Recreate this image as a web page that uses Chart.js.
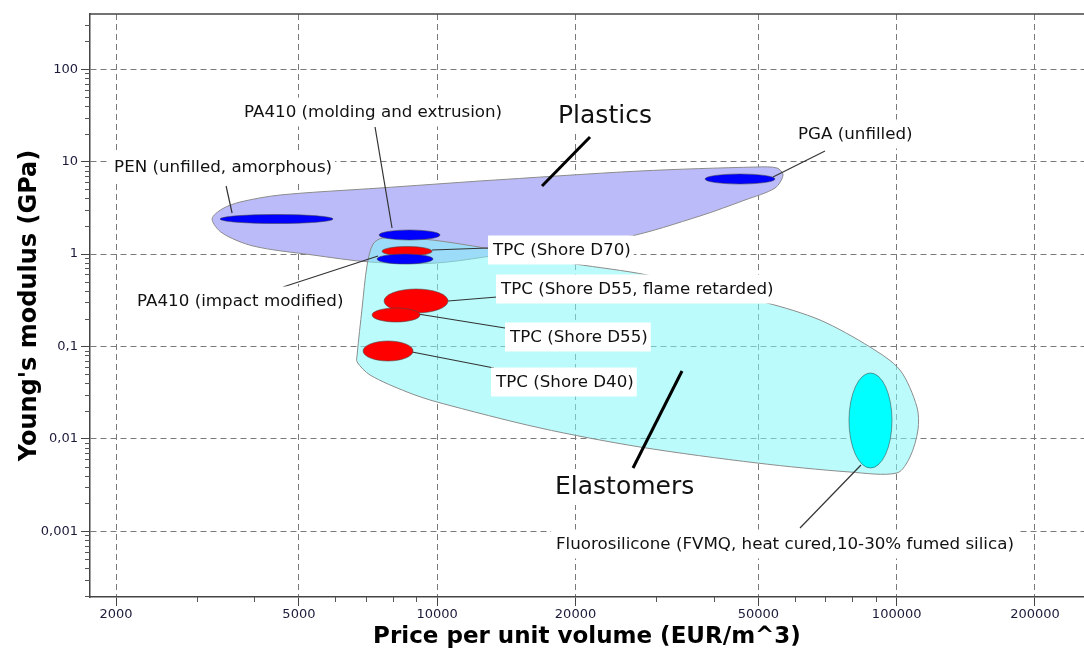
<!DOCTYPE html>
<html><head><meta charset="utf-8">
<script src="https://cdn.jsdelivr.net/npm/chart.js@4.4.1/dist/chart.umd.min.js"></script>
<style>html,body{margin:0;padding:0;background:#fff;overflow:hidden}canvas{display:block}</style>
</head><body>
<canvas id="c" width="1084" height="653"></canvas>
<script>
// ---------- axis ticks ----------
const xMajorTicks = [2000, 5000, 10000, 20000, 50000, 100000, 200000];
const xTickLabels = ['2000', '5000', '10000', '20000', '50000', '100000', '200000'];
const xMinorTicks = [3000, 4000, 6000, 7000, 8000, 9000, 30000, 40000, 60000, 70000, 80000, 90000];
const yMajorTicks = [0.001, 0.01, 0.1, 1, 10, 100];
const yTickLabels = ['0,001', '0,01', '0,1', '1', '10', '100'];
const yMinorTicks = [0.0002, 0.0003, 0.0004, 0.0005, 0.0006, 0.0007, 0.0008, 0.0009,
  0.002, 0.003, 0.004, 0.005, 0.006, 0.007, 0.008, 0.009,
  0.02, 0.03, 0.04, 0.05, 0.06, 0.07, 0.08, 0.09,
  0.2, 0.3, 0.4, 0.5, 0.6, 0.7, 0.8, 0.9,
  2, 3, 4, 5, 6, 7, 8, 9,
  20, 30, 40, 50, 60, 70, 80, 90,
  200, 300];

// ---------- materials (price range EUR/m^3, modulus range GPa) ----------
const materials = ['PEN (unfilled, amorphous)', 'PA410 (molding and extrusion)', 'TPC (Shore D70)',
  'PA410 (impact modified)', 'TPC (Shore D55, flame retarded)', 'TPC (Shore D55)', 'TPC (Shore D40)',
  'PGA (unfilled)', 'Fluorosilicone (FVMQ, heat cured,10-30% fumed silica)'];
const priceLow = [3368, 7471, 7584, 7397, 7661, 7214, 6896, 38270, 78748];
const priceHigh = [5933, 10143, 9744, 9793, 10557, 9175, 8859, 54350, 97683];
const modulusLow = [2.138, 1.4175, 0.9514, 0.7792, 0.22986, 0.18368, 0.069502, 5.7224, 0.0048303];
const modulusHigh = [2.676, 1.8186, 1.2056, 1.0, 0.41803, 0.2603, 0.1144, 7.3418, 0.051537];

// ---------- family envelopes ----------
const plasticsPrice = [12395, 27630, 49670, 54900, 56580, 54360, 46760, 37330, 25890, 15922, 9990, 7141, 5366, 3975, 3402, 3236, 3402, 3723, 4549, 7507, 12395];
const plasticsModulus = [6.17, 7.91, 8.74, 8.52, 7.16, 5.18, 3.84, 2.58, 1.53, 1.105, 0.799, 0.819, 0.975, 1.22, 1.69, 2.39, 3.07, 3.65, 4.35, 5.18, 6.17];
const elastomersPrice = [19950, 28620, 52220, 68100, 87480, 101670, 110700, 111270, 106900, 100160, 79140, 49670, 27630, 16737, 9990, 8597, 7141, 6693, 6693, 6863, 7037, 7250, 7622, 10143, 19950];
const elastomersModulus = [0.779, 0.593, 0.295, 0.193, 0.0985, 0.0555, 0.0221, 0.01245, 0.00635, 0.00427, 0.00437, 0.00547, 0.00815, 0.0131, 0.025, 0.0321, 0.049, 0.0678, 0.0807, 0.2603, 0.760, 1.283, 1.49, 1.383, 0.779];

// ---------- annotation placement (data space) ----------
const labelAnchors = [[1980, 8.526], [3798, 33.57], [13228, 1.0776], [2222, 0.30236], [13769, 0.40775],
  [14404, 0.12329], [13428, 0.04017], [60989, 19.40], [18138, 0.00070901]];
const leaderLines = [[3577, 2.778, 3471, 5.444], [7974, 1.912, 7323, 23.68], [9744, 1.1049, 12901, 1.1611],
  [7434, 0.9514, 4618, 0.4394], [10557, 0.30999, 13496, 0.34247], [9084, 0.22421, 14048, 0.15817],
  [8815, 0.086974, 13294, 0.058376], [53808, 6.8129, 69825, 13.023], [83629, 0.0052054, 61603, 0.001083]];
const familyNames = ['Plastics', 'Elastomers'];
const familyAnchors = [[18321, 30.39], [18048, 0.0029345]];
const familyPointers = [[21507, 18.46, 16909, 5.444], [34104, 0.054171, 26679, 0.0048303]];

// ---------- styles ----------
const ellipseColors = ['#0000ff', '#0000ff', '#ff0000', '#0000ff', '#ff0000', '#ff0000', '#ff0000', '#0000ff', '#00ffff'];
const FONT = 'DejaVu Sans';

Chart.defaults.font.family = FONT;

const isMajor = (list, v) => list.some(t => Math.abs(t - v) / t < 1e-6);

const annot = {
  id: 'annot',
  afterDatasetsDraw(chart) {
    const {ctx, chartArea: a} = chart;
    const xs = chart.scales.x, ys = chart.scales.y;
    const px = v => xs.getPixelForValue(v), py = v => ys.getPixelForValue(v);
    ctx.save();
    ctx.beginPath(); ctx.rect(a.left, a.top, a.right - a.left, a.bottom - a.top); ctx.clip();
    // leader lines
    ctx.strokeStyle = '#333'; ctx.lineWidth = 1.2;
    leaderLines.forEach(l => {
      ctx.beginPath(); ctx.moveTo(px(l[0]), py(l[1])); ctx.lineTo(px(l[2]), py(l[3])); ctx.stroke();
    });
    // ellipses
    materials.forEach((m, i) => {
      const x1 = px(priceLow[i]), x2 = px(priceHigh[i]);
      const y1 = py(modulusHigh[i]), y2 = py(modulusLow[i]);
      ctx.beginPath();
      ctx.ellipse((x1 + x2) / 2, (y1 + y2) / 2, (x2 - x1) / 2, (y2 - y1) / 2, 0, 0, Math.PI * 2);
      ctx.fillStyle = ellipseColors[i]; ctx.fill();
      ctx.strokeStyle = 'rgba(70,70,70,0.55)'; ctx.lineWidth = 1; ctx.stroke();
    });
    // family pointers
    ctx.strokeStyle = '#000'; ctx.lineWidth = 3;
    familyPointers.forEach(l => {
      ctx.beginPath(); ctx.moveTo(px(l[0]), py(l[1])); ctx.lineTo(px(l[2]), py(l[3])); ctx.stroke();
    });
    // labels
    const drawLabel = (text, xv, yv, size, boxH) => {
      ctx.font = size + 'px "' + FONT + '"';
      const w = ctx.measureText(text).width;
      const x = px(xv), y = py(yv);
      ctx.fillStyle = '#fff';
      ctx.fillRect(x - 5, y - boxH / 2 - 1, w + 8, boxH);
      ctx.fillStyle = '#111'; ctx.textBaseline = 'middle'; ctx.textAlign = 'left';
      ctx.fillText(text, x, y);
    };
    materials.forEach((m, i) => drawLabel(m, labelAnchors[i][0], labelAnchors[i][1], 16.7, 29));
    familyNames.forEach((n, i) => drawLabel(n, familyAnchors[i][0], familyAnchors[i][1], 25, 36));
    ctx.restore();
    // minor tick marks (shorter than the major ones)
    ctx.save(); ctx.strokeStyle = '#555'; ctx.lineWidth = 1;
    xMinorTicks.forEach(v => {
      const x = Math.round(px(v)) + 0.5;
      ctx.beginPath(); ctx.moveTo(x, a.bottom); ctx.lineTo(x, a.bottom + 5); ctx.stroke();
    });
    yMinorTicks.forEach(v => {
      const y = Math.round(py(v)) + 0.5;
      ctx.beginPath(); ctx.moveTo(a.left - 5, y); ctx.lineTo(a.left, y); ctx.stroke();
    });
    // top frame
    ctx.strokeStyle = '#444'; ctx.lineWidth = 1.5;
    ctx.beginPath(); ctx.moveTo(a.left, a.top); ctx.lineTo(a.right, a.top); ctx.stroke();
    ctx.restore();
  }
};

const xAll = xMajorTicks.concat(xMinorTicks).sort((p, q) => p - q);
const yAll = yMajorTicks.concat(yMinorTicks).sort((p, q) => p - q);

new Chart(document.getElementById('c'), {
  type: 'scatter',
  data: {
    datasets: [
      {
        label: 'Elastomers', order: 1,
        data: elastomersPrice.map((p, i) => ({x: p, y: elastomersModulus[i]})),
        showLine: true, fill: 'shape', tension: 0.3,
        backgroundColor: 'rgba(129,248,248,0.54)', borderColor: '#8c8c8c', borderWidth: 1,
        pointRadius: 0
      },
      {
        label: 'Plastics', order: 2,
        data: plasticsPrice.map((p, i) => ({x: p, y: plasticsModulus[i]})),
        showLine: true, fill: 'shape', tension: 0.3,
        backgroundColor: 'rgb(187,187,250)', borderColor: '#8c8c8c', borderWidth: 1,
        pointRadius: 0
      }
    ]
  },
  options: {
    responsive: false, animation: false, devicePixelRatio: 1,
    layout: {padding: {top: 14, right: 0, left: 0, bottom: 0}},
    plugins: {legend: {display: false}, tooltip: {enabled: false}},
    scales: {
      x: {
        type: 'logarithmic', position: 'bottom', min: 1755, max: 255700,
        afterBuildTicks: s => { s.ticks = xAll.map(v => ({value: v})); },
        afterFit: s => { s.height = 56; },
        ticks: {
          autoSkip: false, maxRotation: 0, minRotation: 0, padding: 1, color: '#1a1a3a',
          font: {family: FONT, size: 13},
          callback: v => { const i = xMajorTicks.indexOf(v); return i >= 0 ? xTickLabels[i] : ''; }
        },
        grid: {
          color: c => (c.tick && isMajor(xMajorTicks, c.tick.value)) ? '#7a7a7a' : 'rgba(0,0,0,0)',
          tickColor: c => (c.tick && isMajor(xMajorTicks, c.tick.value)) ? '#444' : 'rgba(0,0,0,0)',
          tickLength: 9, lineWidth: 1
        },
        border: {display: true, color: '#444', width: 1.5, dash: [6, 4]},
        title: {display: true, text: 'Price per unit volume (EUR/m^3)', color: '#000',
          font: {family: FONT, size: 23, weight: 'bold'}, padding: {top: 0, bottom: 2}}
      },
      y: {
        type: 'logarithmic', position: 'left', min: 0.000194, max: 395.8,
        afterBuildTicks: s => { s.ticks = yAll.map(v => ({value: v})); },
        afterFit: s => { s.width = 90; },
        ticks: {
          autoSkip: false, padding: 3, color: '#1a1a3a',
          font: {family: FONT, size: 13},
          callback: v => { const i = yMajorTicks.findIndex(t => Math.abs(t - v) / t < 1e-6); return i >= 0 ? yTickLabels[i] : ''; }
        },
        grid: {
          color: c => (c.tick && isMajor(yMajorTicks, c.tick.value)) ? '#7a7a7a' : 'rgba(0,0,0,0)',
          tickColor: c => (c.tick && isMajor(yMajorTicks, c.tick.value)) ? '#444' : 'rgba(0,0,0,0)',
          tickLength: 9, lineWidth: 1
        },
        border: {display: true, color: '#444', width: 1.5, dash: [6, 4]},
        title: {display: true, text: "Young's modulus (GPa)", color: '#000',
          font: {family: FONT, size: 24, weight: 'bold'}, padding: {top: 15, bottom: 0}}
      }
    }
  },
  plugins: [annot]
});
</script>
</body></html>
